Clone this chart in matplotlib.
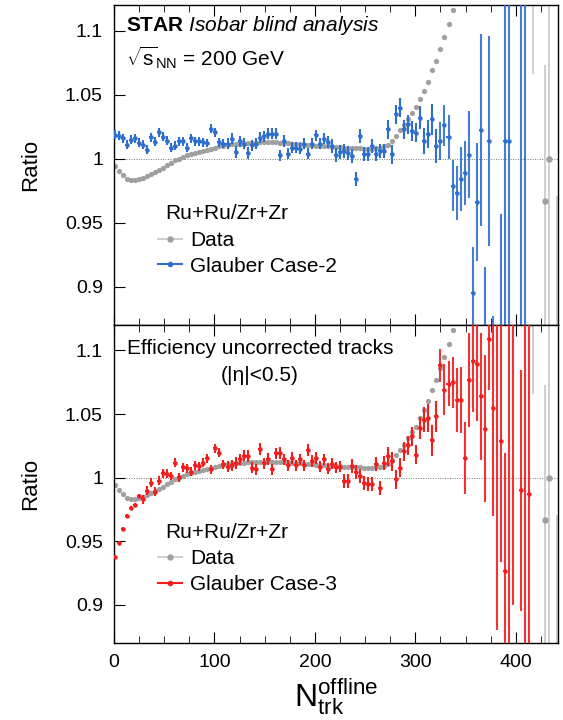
import matplotlib.pyplot as plt
from matplotlib.lines import Line2D
import numpy as np

plt.rcParams['font.family'] = ['Liberation Sans', 'DejaVu Sans']
plt.rcParams['mathtext.fontset'] = 'custom'
plt.rcParams['mathtext.rm'] = 'Liberation Sans'
plt.rcParams['mathtext.it'] = 'Liberation Sans:italic'
plt.rcParams['mathtext.bf'] = 'Liberation Sans:bold'

# measured ratio, Ru+Ru / Zr+Zr (bins of 4 in Ntrk)
data_n = np.arange(1, 338, 4)
data_r = [0.9945, 0.990, 0.987, 0.984, 0.9836, 0.9835, 0.9838, 0.985, 0.9865, 0.988,
          0.9895, 0.991, 0.993, 0.9948, 0.9968, 0.9988, 1.000, 1.001, 1.0025, 1.0035,
          1.0043, 1.005, 1.0057, 1.0065, 1.0075, 1.0085, 1.0095, 1.0102, 1.0108, 1.0112,
          1.0115, 1.0117, 1.0118, 1.012, 1.0122, 1.0124, 1.0126, 1.0127, 1.0128, 1.0127,
          1.0126, 1.0124, 1.0122, 1.012, 1.0117, 1.0115, 1.0113, 1.011, 1.0108, 1.0105,
          1.0102, 1.010, 1.0097, 1.0095, 1.0093, 1.009, 1.0088, 1.0086, 1.0084, 1.0082,
          1.008, 1.008, 1.0079, 1.0078, 1.0078, 1.008, 1.0085, 1.0095, 1.011, 1.014,
          1.018, 1.022, 1.026, 1.031, 1.036, 1.040, 1.0466, 1.053, 1.060, 1.069,
          1.0766, 1.086, 1.095, 1.105, 1.116]

# last few data bins with big errors
data_far_n = [417, 429, 433, 441]
data_far_r = [1.16, 0.967, 1.0, 0.80]
data_far_err = [0.094, 0.106, 0.3, 0.171]

# Glauber Case-2
case2_n = np.arange(1, 322, 4)
case2_r = [1.0188, 1.018, 1.016, 1.0107, 1.0146, 1.0159, 1.0123, 1.0107, 1.007, 1.0167,
           1.0133, 1.0206, 1.0172, 1.014, 1.0084, 1.0102, 1.0135, 1.0135, 1.0084, 1.016,
           1.0135, 1.0135, 1.0127, 1.0122, 1.0232, 1.0206, 1.0127, 1.0115, 1.0117, 1.0156,
           1.0052, 1.0135, 1.0117, 1.0044, 1.0104, 1.0117, 1.0164, 1.0174, 1.0195, 1.0195,
           1.0195, 1.0026, 1.0138, 1.0039, 1.0086, 1.0086, 1.0078, 1.0117, 1.0039, 1.0117,
           1.0182, 1.0117, 1.0156, 1.013, 1.010, 1.003, 1.0055, 1.006, 1.0047, 1.0021,
           0.9839, 1.0177, 1.0034, 1.0034, 1.0099, 1.0034, 1.006, 1.006, 1.023, 1.0034,
           1.0347, 1.0398, 1.023, 1.0268, 1.0216, 1.0203, 1.032, 1.0138, 1.019, 1.0307,
           1.0099]
case2_err = [0.0035] * 28 + [0.0045] * 26 + [0.0055] * 14 + [0.0075] * 8 + [0.009, 0.010, 0.011, 0.012, 0.013]
case2_far_n = [325, 329, 333, 337, 341, 345, 349, 353, 357, 361, 365, 369, 373, 377, 385, 389, 393, 405, 409]
case2_far_r = [1.0138, 1.026, 1.017, 0.979, 0.973, 0.984, 0.989, 1.003, 0.895, 0.966,
               1.022, 0.84, 1.014, 0.78, 0.86, 1.014, 1.014, 1.2, 1.25]
case2_far_err = [0.015, 0.016, 0.017, 0.020, 0.021, 0.025, 0.025, 0.034, 0.036, 0.046,
                 0.075, 0.075, 0.082, 0.097, 0.097, 0.3, 0.3, 0.4, 0.45]

# Glauber Case-3
case3_n = np.arange(1, 322, 4)
case3_r = [0.9375, 0.949, 0.9597, 0.970, 0.976, 0.9787, 0.9857, 0.983, 0.9899, 0.996,
           0.989, 0.9977, 1.0034, 1.003, 1.0013, 1.0117, 1.0003, 1.0081, 1.0073, 1.0047,
           1.0099, 1.0091, 1.0117, 1.0151, 1.0065, 1.023, 1.0195, 1.0107, 1.0086, 1.0096,
           1.0117, 1.0143, 1.0174, 1.0169, 1.0078, 1.0065, 1.0227, 1.0112, 1.0148, 1.0065,
           1.019, 1.0195, 1.0143, 1.0096, 1.0156, 1.0096, 1.0143, 1.0096, 1.0216, 1.013,
           1.0156, 1.0086, 1.0143, 1.007, 1.011, 1.008, 1.0087, 0.997, 0.997, 1.009,
           1.0044, 1.0013, 0.996, 0.9948, 0.9948, 1.0104, 0.9922, 1.0117, 1.0169, 1.013,
           0.9987, 1.0078, 1.0208, 1.0253, 1.0326, 1.0182, 1.039, 1.0456, 1.0469, 1.0294,
           1.0482]
case3_err = [0.0015] * 7 + [0.0035] * 21 + [0.0045] * 29 + [0.0055] * 11 + [0.0075] * 8 + [0.009, 0.010, 0.011, 0.012, 0.012]
case3_far_n = [325, 329, 333, 337, 341, 345, 349, 353, 357, 361, 365, 369, 373, 377, 381,
               385, 389, 393, 397, 405, 409, 413]
case3_far_r = [1.0885, 1.069, 1.074, 1.075, 1.061, 1.061, 1.0155, 1.077, 1.092, 1.0895,
               1.064, 1.0385, 1.109, 1.055, 1.14, 1.029, 0.927, 1.2, 1.2, 0.99, 1.3, 0.987]
case3_far_err = [0.013, 0.020, 0.018, 0.020, 0.025, 0.026, 0.028, 0.037, 0.040, 0.045,
                 0.050, 0.058, 0.040, 0.085, 0.26, 0.095, 0.092, 0.35, 0.3, 0.095, 0.45, 0.2]

yticks = [0.9, 0.95, 1.0, 1.05, 1.1]
ytick_labels = ['0.9', '0.95', '1', '1.05', '1.1']

gray = '#a0a0a0'
light_gray = '#cfcfcf'
blue = '#2f6fcc'
red = '#f21d1d'

fig = plt.figure(figsize=(5.63, 7.2), dpi=100)
ax_top = fig.add_axes([0.2025, 0.5486, 0.7886, 0.4444])
ax_bot = fig.add_axes([0.2025, 0.1069, 0.7886, 0.4417])

panels = [
    (ax_top, case2_n, case2_r, case2_err, case2_far_n, case2_far_r, case2_far_err, blue, 'Glauber Case-2'),
    (ax_bot, case3_n, case3_r, case3_err, case3_far_n, case3_far_r, case3_far_err, red, 'Glauber Case-3'),
]

for ax, mn, mr, me, fn, fr, fe, col, lab in panels:
    ax.axhline(1.0, color='#777777', ls=(0, (1, 1.5)), lw=0.7, zorder=1)
    ax.errorbar(data_far_n, data_far_r, yerr=data_far_err, fmt='o', ms=3.6,
                color=gray, ecolor=light_gray, elinewidth=1.4, capsize=0, zorder=2)
    ax.plot(data_n, data_r, 'o', ms=3.8, color=gray, mec='none', zorder=2)
    ax.errorbar(mn, mr, xerr=2, yerr=me, fmt='o', ms=2.2, color=col,
                elinewidth=1.5, capsize=0, zorder=3)
    ax.errorbar(fn, fr, xerr=2, yerr=fe, fmt='o', ms=2.2, color=col,
                elinewidth=1.5, capsize=0, zorder=3, alpha=0.9)

    ax.set_xlim(0, 442)
    ax.set_ylim(0.87, 1.12)
    ax.set_yticks(yticks)
    ax.set_yticklabels(ytick_labels)
    ax.set_xticks([0, 100, 200, 300, 400])
    ax.set_xticks(np.arange(0, 442, 25), minor=True)
    ax.tick_params(axis='both', which='both', direction='in', top=True, labelsize=14, pad=8)
    ax.tick_params(axis='x', which='major', length=8)
    ax.tick_params(axis='x', which='minor', length=5)
    ax.tick_params(axis='y', which='major', length=8)
    for s in ax.spines.values():
        s.set_linewidth(1.0)

    ax.set_ylabel('Ratio', fontsize=16)
    ax.yaxis.set_label_coords(-0.165, 0.5)

    # legend: header as text, entries as legend rows
    ax.text(0.115, 0.349, 'Ru+Ru/Zr+Zr', transform=ax.transAxes, fontsize=15,
            va='center', ha='left')
    handles = [Line2D([], [], color=light_gray, marker='o', ms=3.6, mfc=gray, mec=gray, lw=1.4),
               Line2D([], [], color=col, marker='o', ms=3, lw=1.5)]
    ax.legend(handles, ['Data', lab], loc='center left', bbox_to_anchor=(0.099, 0.224),
              frameon=False, fontsize=15, handlelength=1.15, handletextpad=0.4,
              labelspacing=0.32, borderpad=0, borderaxespad=0)

ax_top.tick_params(axis='x', labelbottom=False)

ax_top.text(0.027, 0.935, r'$\mathbf{STAR}$ $\mathit{Isobar\ blind\ analysis}$',
            transform=ax_top.transAxes, fontsize=15, va='center', ha='left')
ax_top.text(0.027, 0.835, r'$\sqrt{\mathrm{s}}_{\mathrm{NN}}$ = 200 GeV',
            transform=ax_top.transAxes, fontsize=15, va='center', ha='left')

ax_bot.text(0.029, 0.925, 'Efficiency uncorrected tracks',
            transform=ax_bot.transAxes, fontsize=15, va='center', ha='left')
ax_bot.text(0.329, 0.84, '(|η|<0.5)',
            transform=ax_bot.transAxes, fontsize=15, va='center', ha='center')

ax_bot.set_xlabel(r'$\mathrm{N}_{\mathrm{trk}}^{\mathrm{offline}}$', fontsize=23)
ax_bot.xaxis.set_label_coords(0.5, -0.105)

fig.savefig('out.png', dpi=100)
